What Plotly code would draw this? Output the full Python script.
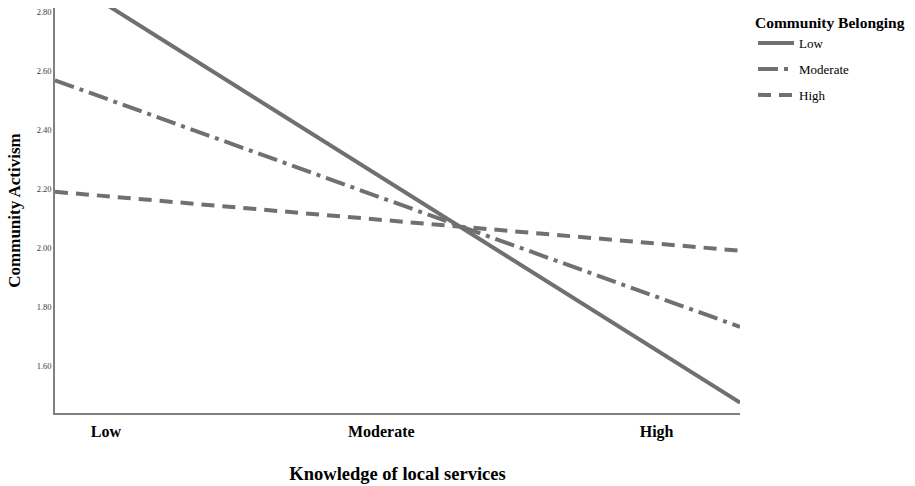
import plotly.graph_objects as go

# Data
knowledge_range = [-1.185, 1.303]          # observed range of knowledge (standardised)
belonging_levels = ["Low", "Moderate", "High"]
activism_low = [2.934, 1.475]
activism_moderate = [2.568, 1.732]
activism_high = [2.190, 1.990]
x_tick_vals = [-1, 0, 1]
x_tick_text = ["<b>Low</b>", "<b>Moderate</b>", "<b>High</b>"]
y_tick_vals = [1.6, 1.8, 2.0, 2.2, 2.4, 2.6, 2.8]
y_tick_text = ["1.60", "1.80", "2.00", "2.20", "2.40", "2.60", "2.80"]

series = [activism_low, activism_moderate, activism_high]
dashes = ["solid", "20px,6px,4px,6px", "13px,8px"]

LINE = "#707070"
FONT = "Liberation Serif, Times New Roman, serif"

fig = go.Figure()
for name, vals, dash in zip(belonging_levels, series, dashes):
    fig.add_trace(go.Scatter(
        x=knowledge_range, y=vals, mode="lines", name=name,
        legendgroup=name,
        line=dict(color=LINE, width=4, dash=dash),
    ))

fig.update_layout(
    width=915, height=486,
    margin=dict(l=55, r=175, t=8, b=73),
    paper_bgcolor="white", plot_bgcolor="white",
    font=dict(family=FONT, color="black"),
    showlegend=True,
    legend=dict(
        title=dict(text="<b>Community Belonging</b>", font=dict(size=15.5, family=FONT, color="black")),
        x=1.019, y=1.0, xanchor="left", yanchor="top",
        font=dict(size=13, family=FONT, color="black"),
        traceorder="grouped", tracegroupgap=6,
        itemwidth=36, bgcolor="rgba(0,0,0,0)",
    ),
    xaxis=dict(
        range=knowledge_range, tickvals=x_tick_vals, ticktext=x_tick_text,
        showgrid=False, zeroline=False, showline=True, linecolor="#808080", linewidth=1.5,
        ticks="", tickfont=dict(size=16, family=FONT, color="black"),
        title=dict(text="<b>Knowledge of local services</b>", font=dict(size=18.5, family=FONT, color="black"), standoff=27),
        automargin=False, fixedrange=True,
    ),
    yaxis=dict(
        range=[1.44, 2.813], tickvals=y_tick_vals, ticktext=y_tick_text,
        showgrid=False, zeroline=False, showline=True, linecolor="#808080", linewidth=1.5,
        ticks="", tickfont=dict(size=8.5, family=FONT, color="#3a3a3a"),
        title=dict(text="<b>Community Activism</b>", font=dict(size=17, family=FONT, color="black"), standoff=12),
        automargin=False, fixedrange=True,
    ),
)
fig.layout.xaxis.ticklabelstandoff = 3

fig.write_html("out.html", config={"displayModeBar": False},
               post_script="document.body.style.margin='0';")
